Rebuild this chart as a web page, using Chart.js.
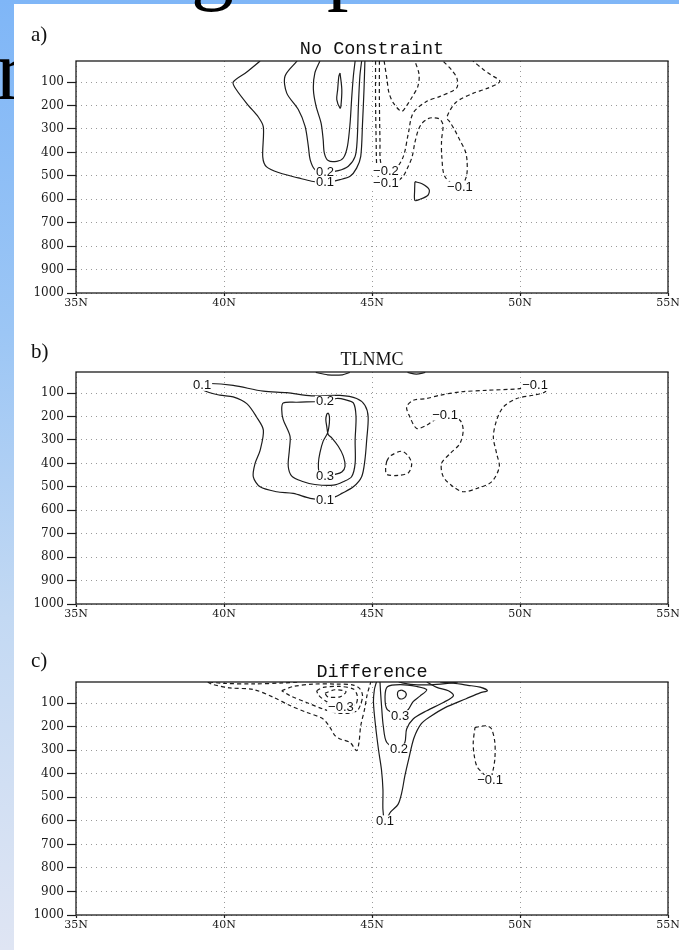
<!DOCTYPE html>
<html>
<head>
<meta charset="utf-8">
<script src="https://cdn.jsdelivr.net/npm/chart.js@4.4.0/dist/chart.umd.min.js"></script>
<style>
  body { margin: 0; }
  #slide {
    position: relative; width: 679px; height: 950px; overflow: hidden;
    background: linear-gradient(to bottom, #7fb6f7 0%, #9cc6f5 35%, #c3d9f3 65%, #dfe5f3 100%);
  }
  .big { position: absolute; font-family: "Liberation Serif", serif; font-size: 86px; line-height: 1; color: #000; }
  #sheet { position: absolute; left: 14px; top: 4px; width: 665px; height: 946px; background: #fff; }
  canvas { position: absolute; left: 0; }
</style>
</head>
<body>
<div id="slide">
  <span class="big" style="left:-4px; top:27px;">r</span>
  <div id="sheet"></div>
  <span class="big" style="left:191px; top:-79px;">g</span>
  <span class="big" style="left:327px; top:-79px;">p</span>
  <canvas id="chartA" width="679" height="300" style="top:20px"></canvas>
  <canvas id="chartB" width="679" height="300" style="top:330px"></canvas>
  <canvas id="chartC" width="679" height="300" style="top:640px"></canvas>
</div>
<script>
// axes: latitude (deg N) across, pressure (hPa) down
const latTicks = [35, 40, 45, 50, 55];
const presTicks = [100, 200, 300, 400, 500, 600, 700, 800, 900, 1000];

// ---- a) No Constraint : contour lines as [lat, hPa] ----
const ncPos01 = [[41.22,10],[40.77,57],[40.31,100],[40.43,135],[40.82,199],[41.16,249],[41.33,292],[41.31,420],[41.44,462],[41.89,488],[42.51,509],[42.96,523],[43.41,528],[43.92,516],[44.26,502],[44.48,467],[44.62,417],[44.68,275],[44.73,132],[44.76,10]];
const ncPos02 = [[42.47,10],[42.06,75],[42.12,147],[42.51,217],[42.74,289],[42.85,374],[42.91,431],[43.07,473],[43.41,485],[43.86,478],[44.2,459],[44.43,417],[44.5,345],[44.54,203],[44.59,75],[44.65,10]];
const ncPos03 = [[43.24,10],[43.07,61],[43.02,132],[43.11,203],[43.28,275],[43.35,345],[43.39,403],[43.52,435],[43.81,438],[44.03,424],[44.17,374],[44.26,275],[44.31,175],[44.37,75],[44.43,10]];
const ncPos04 = [[43.92,61],[43.98,132],[43.95,203],[43.92,211],[43.81,175],[43.84,132],[43.88,75],[43.92,61]];
const ncPos05 = [[46.45,525],[46.69,534],[46.93,558],[46.89,583],[46.62,600],[46.45,605],[46.44,562],[46.45,525]];
const ncNeg01 = [[45.12,10],[45.12,178],[45.14,348],[45.17,476],[45.27,519],[45.51,532],[45.84,524],[46.05,502],[46.18,472],[46.35,421],[46.45,357],[46.56,306],[46.68,277],[46.9,256],[47.09,252],[47.3,259],[47.4,284],[47.35,348],[47.36,421],[47.47,505],[47.97,548],[48.19,502],[48.21,434],[48.14,391],[47.97,348],[47.8,306],[47.64,272],[47.53,250],[47.84,186],[48.41,148],[48.89,127],[49.32,97],[48.99,67],[48.75,45],[48.41,10]];
const ncNeg02 = [[45.25,10],[45.25,178],[45.27,348],[45.3,447],[45.51,477],[45.78,474],[46.06,417],[46.23,317],[46.39,232],[46.85,182],[47.3,161],[47.86,125],[47.87,84],[47.7,50],[47.4,10]];
const ncNeg03 = [[45.41,10],[45.51,92],[45.57,144],[45.72,189],[46.0,225],[46.18,199],[46.35,165],[46.55,118],[46.59,67],[46.45,10]];
const ncLabels = [[43.41,485,'0.2'],[43.41,528,'0.1'],[45.47,477,'\u22120.2'],[45.47,532,'\u22120.1'],[47.97,548,'\u22120.1']];

// ---- b) TLNMC ----
const tlPos01 = [[39.26,67],[39.53,59],[40.31,67],[41.33,92],[42.12,98],[42.96,112],[43.92,110],[44.48,123],[44.76,152],[44.87,202],[44.82,301],[44.76,386],[44.65,457],[44.37,500],[43.98,528],[43.75,543],[43.41,555],[42.91,549],[42.34,528],[41.78,521],[41.22,500],[40.99,457],[41.05,400],[41.22,344],[41.33,258],[41.1,202],[40.77,145],[40.31,116],[39.86,109],[39.3,88],[39.26,67]];
const tlPos02 = [[43.41,135],[43.07,137],[42.46,139],[42.0,142],[41.95,170],[42.0,213],[42.23,284],[42.21,341],[42.17,412],[42.29,454],[42.63,476],[43.07,490],[43.69,493],[44.03,478],[44.31,457],[44.43,400],[44.43,301],[44.46,199],[44.37,142],[44.09,128],[43.81,123],[43.41,135]];
const tlPos03 = [[43.41,454],[43.75,447],[43.98,437],[44.09,412],[44.03,369],[43.86,327],[43.64,291],[43.52,277],[43.47,241],[43.44,213],[43.47,191],[43.52,186],[43.56,199],[43.56,227],[43.5,270],[43.35,305],[43.24,355],[43.19,398],[43.22,440],[43.41,454]];
const tlPos04 = [[43.1,12],[43.5,22],[44.0,22],[44.25,12]];
const tlPos05 = [[46.2,12],[46.5,19],[46.8,12]];
const tlNeg01 = [[50.51,67],[50.0,81],[48.88,88],[47.97,95],[47.3,109],[46.85,123],[46.39,131],[46.17,159],[46.28,202],[46.51,251],[46.85,237],[47.01,223],[47.47,194],[47.97,216],[48.08,258],[47.97,315],[47.64,358],[47.35,400],[47.41,457],[47.75,500],[48.08,521],[48.54,507],[49.04,479],[49.3,415],[49.21,358],[49.1,287],[49.21,216],[49.44,159],[49.89,123],[50.45,109],[50.84,95],[50.91,71],[50.51,67]];
const tlNeg02 = [[45.5,390],[45.61,369],[46.0,348],[46.23,369],[46.34,404],[46.23,440],[45.89,451],[45.5,447],[45.46,419],[45.5,390]];
const tlLabels = [[39.26,67,'0.1'],[43.41,135,'0.2'],[43.41,454,'0.3'],[43.41,555,'0.1'],[47.47,194,'\u22120.1'],[50.51,67,'\u22120.1']];

// ---- c) Difference ----
const dfPos01 = [[45.15,10],[45.08,43],[45.05,98],[45.12,196],[45.22,298],[45.32,383],[45.37,468],[45.37,553],[45.44,600],[45.63,562],[45.88,530],[46.01,477],[46.11,409],[46.25,332],[46.42,247],[46.66,188],[46.96,158],[47.47,119],[48.18,81],[48.65,56],[48.9,47],[48.65,32],[48.24,24],[47.74,15],[47.3,10]];
const dfPos02 = [[45.27,10],[45.29,54],[45.33,125],[45.38,196],[45.5,267],[45.91,295],[46.11,267],[46.17,210],[46.39,167],[46.85,132],[47.41,97],[47.75,68],[47.58,47],[47.19,33],[46.85,10]];
const dfPos03 = [[45.95,153],[45.51,126],[45.44,73],[45.52,30],[45.95,21],[46.51,29],[46.85,43],[46.62,70],[46.39,93],[46.22,128],[45.95,153]];
const dfPos04 = [[46.0,44],[46.13,53],[46.15,68],[46.04,81],[45.91,79],[45.86,64],[45.89,49],[46.0,44]];
const dfPos05 = [[45.9,10],[46.3,20],[47.0,22],[47.6,15],[47.9,10]];
const dfNeg01 = [[39.45,10],[39.58,19],[40.2,35],[40.99,42],[41.67,75],[42.23,110],[42.79,139],[43.35,167],[43.58,203],[43.75,238],[43.92,252],[44.26,267],[44.48,302],[44.56,267],[44.62,196],[44.75,125],[44.83,68],[44.92,26],[44.96,10]];
const dfNeg02 = [[41.95,47],[42.34,29],[43.02,19],[43.81,19],[44.37,23],[44.6,40],[44.68,68],[44.62,104],[44.5,132],[44.26,142],[43.81,142],[43.35,125],[42.79,97],[42.23,68],[41.95,47]];
const dfNeg03 = [[43.13,47],[43.35,33],[43.92,29],[44.37,40],[44.5,68],[44.45,104],[43.95,118],[43.47,94],[43.19,65],[43.13,47]];
const dfNeg04 = [[43.41,58],[43.75,43],[44.12,51],[43.92,73],[43.51,73],[43.41,58]];
const dfNeg05 = [[39.5,10],[40.0,16],[41.0,18],[42.0,14],[42.5,10]];
const dfNeg06 = [[48.48,203],[48.87,196],[49.04,210],[49.15,267],[49.15,337],[49.08,390],[48.99,428],[48.75,398],[48.55,370],[48.45,320],[48.42,267],[48.48,203]];
const dfLabels = [[45.44,600,'0.1'],[45.91,295,'0.2'],[45.95,153,'0.3'],[43.95,118,'\u22120.3'],[48.99,428,'\u22120.1']];

const ink = '#1c1c1c';

function lines(list, dashed) {
  return list.map(pts => ({
    data: pts.map(([lat, p]) => ({ x: lat, y: p })),
    showLine: true,
    borderColor: ink,
    borderWidth: 1.2,
    borderDash: dashed ? [4, 3] : [],
    pointRadius: 0,
    tension: 0.3,
    fill: false
  }));
}

// frame, contour labels, panel title and tag
const frameAndText = {
  id: 'frameAndText',
  afterDatasetsDraw(chart, args, opts) {
    const { ctx, chartArea: a, scales: { x, y } } = chart;
    ctx.save();
    ctx.strokeStyle = ink;
    ctx.lineWidth = 1.3;
    ctx.strokeRect(a.left, a.top, a.right - a.left, a.bottom - a.top);

    ctx.font = '13px "Liberation Sans", sans-serif';
    ctx.textAlign = 'center';
    ctx.textBaseline = 'middle';
    opts.labels.forEach(([lat, p, txt]) => {
      const px = x.getPixelForValue(lat), py = y.getPixelForValue(p);
      const w = ctx.measureText(txt).width + 2;
      ctx.fillStyle = '#fff';
      ctx.fillRect(px - w / 2, py - 5.5, w, 11);
      ctx.fillStyle = '#111';
      ctx.fillText(txt, px, py + 0.5);
    });

    ctx.textBaseline = 'alphabetic';
    ctx.font = opts.titleFont;
    ctx.fillText(opts.title, (a.left + a.right) / 2, opts.titleY);
    ctx.textAlign = 'left';
    ctx.font = '21px "Liberation Serif", serif';
    ctx.fillText(opts.tag, 31, opts.tagY);
    ctx.restore();
  }
};

function makePanel(id, cfg) {
  new Chart(document.getElementById(id), {
    type: 'scatter',
    data: { datasets: [...lines(cfg.pos, false), ...lines(cfg.neg, true)] },
    options: {
      responsive: false,
      animation: false,
      layout: { padding: { left: 14, right: 11, top: cfg.padTop, bottom: cfg.padBottom } },
      plugins: {
        legend: { display: false },
        tooltip: { enabled: false },
        frameAndText: { labels: cfg.labels, title: cfg.title, titleFont: cfg.titleFont, titleY: cfg.titleY, tag: cfg.tag, tagY: cfg.tagY }
      },
      scales: {
        x: {
          type: 'linear', min: 35, max: 55,
          afterBuildTicks: s => { s.ticks = latTicks.map(v => ({ value: v })); },
          // keep the frame fixed; the end labels may run past it
          afterFit: s => { s.height = 20; s.paddingLeft = 0; s.paddingRight = 0; },
          ticks: {
            autoSkip: false, maxRotation: 0, padding: 2, color: '#1a1a1a',
            font: { family: '"DejaVu Serif", serif', size: 11, lineHeight: 1 },
            callback: v => v + 'N'
          },
          grid: { color: '#9a9a9a', lineWidth: 1, tickLength: 3, tickColor: ink, tickWidth: 1.2 },
          border: { display: false, dash: [1, 4] }
        },
        y: {
          type: 'linear', reverse: true, min: 10, max: 1000,
          afterBuildTicks: s => { s.ticks = presTicks.map(v => ({ value: v })); },
          afterFit: s => { s.width = 62; s.paddingTop = 0; s.paddingBottom = 0; },
          ticks: {
            autoSkip: false, padding: 3, color: '#1a1a1a',
            font: { family: '"DejaVu Serif", serif', size: 12 },
            callback: v => String(v)
          },
          grid: { color: '#9a9a9a', lineWidth: 1, tickLength: 9, tickColor: ink, tickWidth: 1.2 },
          border: { display: false, dash: [1, 4] }
        }
      }
    },
    plugins: [frameAndText]
  });
}

const monoTitle = '18.5px "Liberation Mono", monospace';

makePanel('chartA', {
  pos: [ncPos01, ncPos02, ncPos03, ncPos04, ncPos05], neg: [ncNeg01, ncNeg02, ncNeg03],
  labels: ncLabels, title: 'No Constraint', titleFont: monoTitle, titleY: 34, tag: 'a)', tagY: 20.7,
  padTop: 41, padBottom: 7
});
makePanel('chartB', {
  pos: [tlPos01, tlPos02, tlPos03, tlPos04, tlPos05], neg: [tlNeg01, tlNeg02],
  labels: tlLabels, title: 'TLNMC', titleFont: '18px "Liberation Serif", serif', titleY: 35, tag: 'b)', tagY: 28.3,
  padTop: 42, padBottom: 6
});
makePanel('chartC', {
  pos: [dfPos01, dfPos02, dfPos03, dfPos04, dfPos05], neg: [dfNeg01, dfNeg02, dfNeg03, dfNeg04, dfNeg05, dfNeg06],
  labels: dfLabels, title: 'Difference', titleFont: monoTitle, titleY: 36.7, tag: 'c)', tagY: 27.3,
  padTop: 42, padBottom: 5
});
</script>
</body>
</html>
